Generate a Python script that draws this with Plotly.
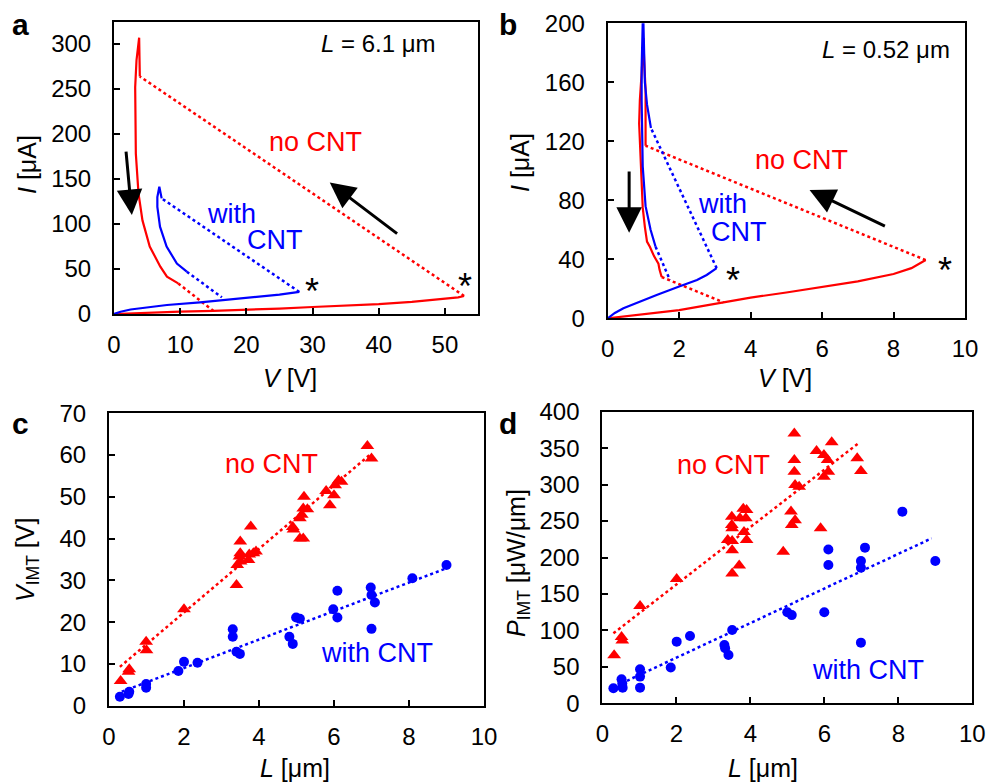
import plotly.graph_objects as go

# ---------------- Panel a (L = 6.1 um) ----------------
a_red_low_V = [0, 5, 10, 15, 20, 25, 30, 35, 40, 45, 50, 52, 52.9]
a_red_low_I = [0, 1.5, 2.6, 3.5, 4.4, 6.0, 7.8, 9.3, 11.0, 13.5, 16.5, 18.5, 20.0]
a_red_jump_V = [52.9, 3.9]
a_red_jump_I = [20.0, 264]
a_red_up_V = [3.9, 3.85, 3.8, 3.4, 3.2, 3.3, 3.7, 4.3, 5.4, 7.0, 8.0, 9.7]
a_red_up_I = [264, 290, 307, 282, 252, 178, 134, 104, 75, 52.6, 41.5, 34]
a_red_ret_V = [9.7, 15.0]
a_red_ret_I = [34, 3.5]

a_blue_low_V = [0, 1, 2.5, 5, 8, 13, 20, 25, 28]
a_blue_low_I = [0, 2.5, 5, 7.5, 10, 13, 18, 21.5, 24.5]
a_blue_jump_V = [28, 7.2]
a_blue_jump_I = [24.5, 128.5]
a_blue_up_V = [7.2, 6.85, 6.55, 6.55, 6.95, 7.95, 9.5, 11.0]
a_blue_up_I = [128.5, 141.4, 130, 119, 97, 75, 56, 47]
a_blue_ret_V = [11.0, 16.3]
a_blue_ret_I = [47, 18.5]

# ---------------- Panel b (L = 0.52 um) ----------------
b_red_low_V = [0, 1, 2, 3, 4, 5, 6, 7, 8, 8.5, 8.9]
b_red_low_I = [0, 2.8, 5.6, 9.8, 14, 17.5, 21, 25, 30, 34, 39.5]
b_red_jump_V = [8.9, 1.06]
b_red_jump_I = [39.5, 117]
b_red_up_V = [1.06, 1.05, 1.06, 1.02, 1.0, 0.96, 0.9, 0.88, 0.92, 0.95, 0.98, 1.04, 1.1, 1.18, 1.3, 1.42, 1.45, 1.51]
b_red_up_I = [117, 135, 155, 175, 190, 170, 148, 132, 110, 89, 75, 62, 52, 48.5, 42, 37, 33, 28]
b_red_ret_V = [1.51, 3.24]
b_red_ret_I = [28, 10.8]

b_blue_low_V = [0, 0.2, 0.44, 0.9, 1.37, 2.0, 2.5, 2.77, 3.05]
b_blue_low_I = [0, 3.6, 6.8, 11.3, 15.8, 21.5, 26, 29.4, 34]
b_blue_jump_V = [3.05, 1.21]
b_blue_jump_I = [34, 129]
b_blue_up_V = [1.21, 1.1, 1.04, 1.0, 0.99, 0.95, 0.95, 0.98, 1.06, 1.2, 1.28, 1.34]
b_blue_up_I = [129, 145, 160, 185, 210, 170, 148, 103, 76, 60, 53, 48.5]
b_blue_ret_V = [1.34, 1.74]
b_blue_ret_I = [48.5, 26]

# ---------------- Panel c: V_IMT vs L ----------------
c_nocnt_L = [0.31, 0.52, 0.54, 0.99, 1.0, 2.0, 3.4, 3.42, 3.48, 3.5, 3.5, 3.51, 3.72, 3.78, 3.74, 3.85, 3.92,
             4.9, 4.92, 5.09, 5.18, 5.09, 5.14, 5.18, 5.2, 5.29, 5.79, 5.89, 6.0, 6.03, 6.12, 6.2, 6.89, 7.0]
c_nocnt_V = [5.9, 8.1, 8.7, 15.3, 13.3, 23.1, 28.9, 33.7, 35.7, 36.5, 39.3, 34.5, 34.9, 42.9, 36.2, 36.5, 36.9,
             42.8, 42.2, 40.0, 40.0, 44.9, 45.7, 47.2, 50.0, 47.0, 51.4, 48.0, 50.4, 52.8, 53.9, 53.6, 62.2, 59.2]
c_cnt_L = [0.29, 0.52, 0.54, 0.99, 0.99, 1.85, 2.0, 2.36, 3.3, 3.3, 3.4, 3.49, 4.81, 4.9, 4.99, 5.09,
           5.98, 6.09, 6.09, 6.98, 7.0, 7.09, 7.0, 8.09, 9.0]
c_cnt_V = [2.15, 2.8, 3.35, 5.2, 4.3, 8.3, 10.5, 10.3, 18.3, 16.5, 12.9, 12.4, 16.5, 14.8, 21.1, 20.8,
           23.1, 21.1, 27.5, 28.3, 26.5, 24.7, 18.4, 30.5, 33.7]
c_fit_nocnt_L = [0.29, 7.0]
c_fit_nocnt_V = [9.3, 60.4]
c_fit_cnt_L = [0.34, 9.0]
c_fit_cnt_V = [3.35, 32.9]

# ---------------- Panel d: P_IMT vs L ----------------
d_nocnt_L = [0.32, 0.52, 0.54, 1.02, 2.01, 3.39, 3.5, 3.5, 3.51, 3.51, 3.51, 3.51, 3.7, 3.72, 3.81, 3.83,
             3.88, 3.9, 3.9, 4.89, 5.1, 5.12, 5.21, 5.19, 5.19, 5.19, 5.21, 5.32, 5.79, 5.9, 5.99, 5.99,
             6.09, 6.11, 6.2, 6.89, 6.99]
d_nocnt_P = [66, 91, 86, 133.5, 170.5, 224, 256, 244.6, 240, 222.6, 210, 178, 189, 253.7, 267, 235,
             253.7, 265, 224, 208, 263, 244.6, 251, 370, 333.7, 317.7, 299.4, 297, 346, 240, 340.6, 310.9,
             333.7, 317.7, 358, 336, 318.6]
d_cnt_L = [0.3, 0.52, 0.54, 0.55, 1.02, 1.02, 1.02, 1.85, 2.01, 2.37, 3.3, 3.32, 3.41, 3.51, 5.0, 5.12,
           6.0, 6.11, 6.11, 6.99, 6.99, 7.1, 6.99, 8.11, 9.0]
d_cnt_P = [20.6, 33, 27, 21.5, 46.6, 36.6, 21.5, 49, 84.6, 92.3, 80, 75.4, 66.3, 100.6, 124.8, 121,
           124.8, 211, 189.7, 195.2, 186, 213.5, 83.2, 262.9, 195.2]
d_fit_nocnt_L = [0.3, 6.92]
d_fit_nocnt_P = [96, 356.6]
d_fit_cnt_L = [0.52, 8.9]
d_fit_cnt_P = [27.4, 226.3]

# tick settings
a_xticks = [0, 10, 20, 30, 40, 50]
a_yticks = [0, 50, 100, 150, 200, 250, 300]
b_xticks = [0, 2, 4, 6, 8, 10]
b_yticks = [0, 40, 80, 120, 160, 200]
c_xticks = [0, 2, 4, 6, 8, 10]
c_yticks = [0, 10, 20, 30, 40, 50, 60, 70]
d_xticks = [0, 2, 4, 6, 8, 10]
d_yticks = [0, 50, 100, 150, 200, 250, 300, 350, 400]

RED = "#ff0000"
BLUE = "#0000ff"
FONT = "Liberation Sans, Arial, sans-serif"

fig = go.Figure()


def line(x, y, color, xa, ya, dotted=False):
    fig.add_trace(go.Scatter(
        x=x, y=y, mode="lines", xaxis=xa, yaxis=ya, showlegend=False,
        line=dict(color=color, width=2.5 if dotted else 2.2,
                  dash="3px,3px" if dotted else "solid"),
        hoverinfo="skip"))


def pts(x, y, color, symbol, size, xa, ya):
    fig.add_trace(go.Scatter(
        x=x, y=y, mode="markers", xaxis=xa, yaxis=ya, showlegend=False,
        marker=dict(color=color, symbol=symbol, size=size, line=dict(width=0)),
        cliponaxis=False, hoverinfo="skip"))


# panel a
line(a_red_low_V, a_red_low_I, RED, "x", "y")
line(a_red_jump_V, a_red_jump_I, RED, "x", "y", True)
line(a_red_up_V, a_red_up_I, RED, "x", "y")
line(a_red_ret_V, a_red_ret_I, RED, "x", "y", True)
line(a_blue_low_V, a_blue_low_I, BLUE, "x", "y")
line(a_blue_jump_V, a_blue_jump_I, BLUE, "x", "y", True)
line(a_blue_up_V, a_blue_up_I, BLUE, "x", "y")
line(a_blue_ret_V, a_blue_ret_I, BLUE, "x", "y", True)

# panel b
line(b_red_low_V, b_red_low_I, RED, "x2", "y2")
line(b_red_jump_V, b_red_jump_I, RED, "x2", "y2", True)
line(b_red_up_V, b_red_up_I, RED, "x2", "y2")
line(b_red_ret_V, b_red_ret_I, RED, "x2", "y2", True)
line(b_blue_low_V, b_blue_low_I, BLUE, "x2", "y2")
line(b_blue_jump_V, b_blue_jump_I, BLUE, "x2", "y2", True)
line(b_blue_up_V, b_blue_up_I, BLUE, "x2", "y2")
line(b_blue_ret_V, b_blue_ret_I, BLUE, "x2", "y2", True)

# panel c
line(c_fit_nocnt_L, c_fit_nocnt_V, RED, "x3", "y3", True)
line(c_fit_cnt_L, c_fit_cnt_V, BLUE, "x3", "y3", True)
pts(c_nocnt_L, c_nocnt_V, RED, "triangle-up", 12, "x3", "y3")
pts(c_cnt_L, c_cnt_V, BLUE, "circle", 10, "x3", "y3")

# panel d
line(d_fit_nocnt_L, d_fit_nocnt_P, RED, "x4", "y4", True)
line(d_fit_cnt_L, d_fit_cnt_P, BLUE, "x4", "y4", True)
pts(d_nocnt_L, d_nocnt_P, RED, "triangle-up", 12, "x4", "y4")
pts(d_cnt_L, d_cnt_P, BLUE, "circle", 10, "x4", "y4")


def axis(domain, rng, ticks, anchor, standoff):
    return dict(domain=domain, range=rng, tickvals=ticks, anchor=anchor,
                showgrid=False, zeroline=False, showline=True, mirror=True,
                linecolor="black", linewidth=2, ticks="inside", ticklen=6,
                tickwidth=1.5, tickcolor="black", ticklabelstandoff=standoff,
                automargin=False,
                tickfont=dict(family=FONT, size=24, color="black"), fixedrange=True)


W, H = 987, 784


def px(x0, x1):
    return [x0 / W, x1 / W]


def py(y_top, y_bot):
    return [1 - y_bot / H, 1 - y_top / H]


XS = 8   # x tick label standoff
YS = 16  # y tick label standoff

fig.update_layout(
    width=W, height=H, margin=dict(l=0, r=0, t=0, b=0, pad=0, autoexpand=False),
    paper_bgcolor="white", plot_bgcolor="white",
    font=dict(family=FONT, color="black"),
    xaxis=axis(px(114, 478), [0, 55], a_xticks, "y", XS),
    yaxis=axis(py(22, 314), [0, 324.5], a_yticks, "x", YS),
    xaxis2=axis(px(607.7, 965), [0, 10], b_xticks, "y2", XS),
    yaxis2=axis(py(23.3, 318.3), [0, 200], b_yticks, "x2", YS),
    xaxis3=axis(px(109, 484), [0, 10], c_xticks, "y3", XS),
    yaxis3=axis(py(413.3, 705.7), [0, 70], c_yticks, "x3", YS),
    xaxis4=axis(px(602.3, 972.3), [0, 10], d_xticks, "y4", XS),
    yaxis4=axis(py(411.7, 703.3), [0, 400], d_yticks, "x4", YS),
)

ann = []


def paper_text(text, x, y, size, angle=0, bold=False):
    t = "<b>%s</b>" % text if bold else text
    ann.append(dict(text=t, x=x / W, y=1 - y / H, xref="paper", yref="paper",
                    showarrow=False, textangle=angle, xanchor="center", yanchor="middle",
                    font=dict(family=FONT, size=size, color="black")))


def data_text(text, x, y, xr, yr, size, color):
    ann.append(dict(text=text, x=x, y=y, xref=xr, yref=yr, showarrow=False,
                    xanchor="center", yanchor="middle",
                    font=dict(family=FONT, size=size, color=color)))


def arrow(x0, y0, x1, y1, xr, yr):
    ann.append(dict(text="", x=x1, y=y1, ax=x0, ay=y0, xref=xr, yref=yr,
                    axref=xr, ayref=yr, showarrow=True, arrowhead=2,
                    arrowsize=1.7, arrowwidth=3.0, arrowcolor="black"))


# panel letters
paper_text("a", 20, 25, 30, bold=True)
paper_text("b", 508, 25, 30, bold=True)
paper_text("c", 20, 423, 30, bold=True)
paper_text("d", 508, 423, 30, bold=True)

# axis titles
paper_text("<i>I</i> [μA]", 27, 165, 25, angle=-90)
paper_text("<i>V</i> [V]", 290, 378, 25)
paper_text("<i>I</i> [μA]", 520, 163, 25, angle=-90)
paper_text("<i>V</i> [V]", 785, 378, 25)
paper_text("<i>V</i><sub>IMT</sub> [V]", 27, 560, 25, angle=-90)
paper_text("<i>L</i> [μm]", 295, 768, 25)
paper_text("<i>P</i><sub>IMT</sub> [μW/μm]", 518, 563, 25, angle=-90)
paper_text("<i>L</i> [μm]", 763, 768, 25)

# panel a texts
data_text("<i>L</i> = 6.1 μm", 40.0, 301, "x", "y", 24, "black")
data_text("no CNT", 30.4, 191, "x", "y", 27, RED)
data_text("with", 17.8, 111, "x", "y", 27, BLUE)
data_text("CNT", 24.3, 82, "x", "y", 27, BLUE)
data_text("*", 29.9, 25.5, "x", "y", 36, "black")
data_text("*", 53.0, 31, "x", "y", 36, "black")
arrow(1.8, 182, 2.7, 110, "x", "y")
arrow(43.0, 88, 32.6, 146, "x", "y")

# panel b texts
data_text("<i>L</i> = 0.52 μm", 7.79, 182, "x2", "y2", 24, "black")
data_text("no CNT", 5.43, 107, "x2", "y2", 27, RED)
data_text("with", 3.21, 77.5, "x2", "y2", 27, BLUE)
data_text("CNT", 3.68, 58.8, "x2", "y2", 27, BLUE)
data_text("*", 3.52, 25.3, "x2", "y2", 36, "black")
data_text("*", 9.44, 32.3, "x2", "y2", 36, "black")
arrow(0.6, 100.5, 0.6, 58, "x2", "y2")
arrow(7.8, 62, 5.65, 87, "x2", "y2")

# panel c texts
data_text("no CNT", 4.34, 57.9, "x3", "y3", 27, RED)
data_text("with CNT", 7.14, 12.5, "x3", "y3", 27, BLUE)

# panel d texts
data_text("no CNT", 3.27, 327, "x4", "y4", 27, RED)
data_text("with CNT", 7.19, 45.7, "x4", "y4", 27, BLUE)

fig.update_layout(annotations=ann)
fig.write_html(
    "out.html",
    config={"displayModeBar": False},
    post_script="document.body.style.margin='0px';document.body.style.overflow='hidden';",
)
